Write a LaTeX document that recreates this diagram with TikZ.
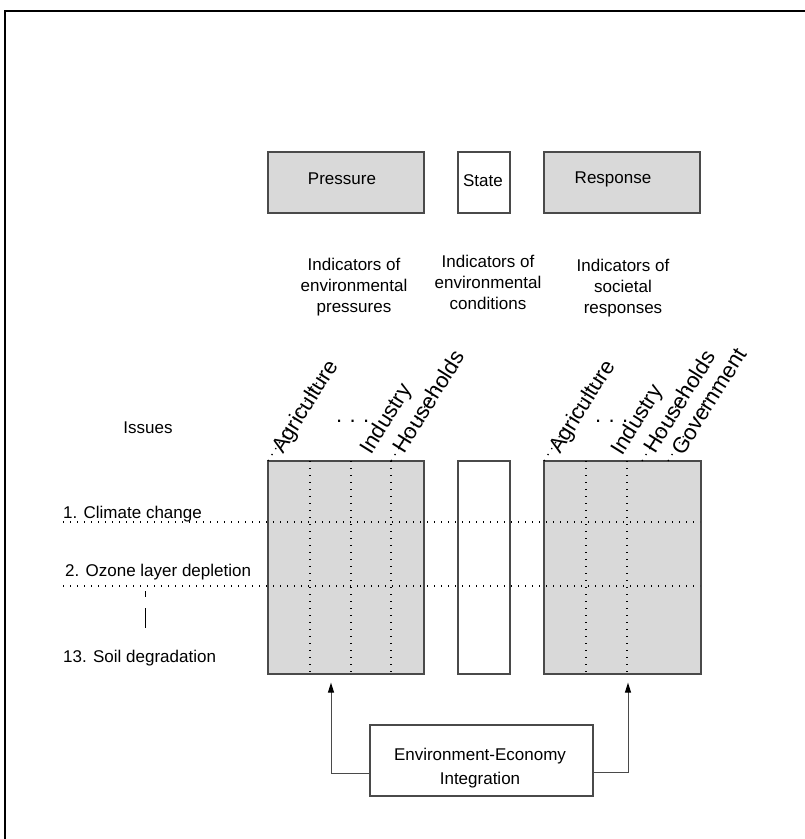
\documentclass[tikz,border=0pt]{standalone}
\usepackage{fontspec}
\setmainfont{Liberation Sans}
\usetikzlibrary{arrows.meta}
\definecolor{boxfill}{HTML}{D9D9D9}
\definecolor{boxline}{HTML}{4A4A4A}
\newcommand\fsn{\fontsize{17}{21}\selectfont}
\newcommand\fsr{\fontsize{22}{26}\selectfont}
\tikzset{
  gbox/.style={draw=boxline, fill=boxfill, line width=1.2pt, inner sep=0pt, minimum height=#1},
  wbox/.style={draw=boxline, fill=white, line width=1.2pt, inner sep=0pt, minimum height=#1},
  lbl/.style={inner sep=0pt, font=\fsn},
  rlbl/.style={inner sep=0pt, font=\fsr, rotate=58, anchor=base west},
  dotline/.style={line width=1.3pt, dash pattern=on 1.3pt off 5.7pt, black},
  arr/.style={draw=boxline, line width=1pt, -{Triangle[length=10pt,width=6pt,color=black]}, shorten >=8pt},
}
\begin{document}
\begin{tikzpicture}[x=1pt,y=-1pt]
\useasboundingbox (0,0) rectangle (805,839);
% outer frame (top and left edges)
\draw[line width=1.3pt] (805,11) -- (5,11) -- (5,839);

% top boxes
\node[gbox=61pt, minimum width=156pt] (ptop) at (346,182.5) {};
\node[wbox=61pt, minimum width=52pt] (stop) at (484,182.5) {};
\node[gbox=61pt, minimum width=156pt] (rtop) at (622,182.5) {};
\node[lbl] (ptxt) at (342,179) {Pressure};
\node[lbl] (stxt) at (483,181) {State};
\node[lbl] (rtxt) at (613,179) {Response};

% indicator texts
\node[lbl, align=center] (pind) at (354,286.6) {Indicators of\\environmental\\pressures};
\node[lbl, align=center] (sind) at (488,282.8) {Indicators of\\environmental\\conditions};
\node[lbl, align=center] (rind) at (623,288.1) {Indicators of\\societal\\responses};

% grid boxes
\node[gbox=213pt, minimum width=156pt] (pgrid) at (346,567.5) {};
\node[wbox=213pt, minimum width=52pt] (sgrid) at (484,567.5) {};
\node[gbox=213pt, minimum width=157pt] (rgrid) at (622.5,567.5) {};

% vertical dotted lines
\foreach \x in {310,351,391} \draw[dotline] (\x,461) -- (\x,674);
\foreach \x in {586,627} \draw[dotline] (\x,461) -- (\x,674);
% horizontal dotted lines
\draw[dotline] (63,522) -- (700,522);
\draw[dotline] (63,586) -- (700,586);

% slanted dotted lines
\draw[dotline] (268,461) -- ++(53,-85);
\draw[dotline] (391,461) -- ++(53,-85);
\draw[dotline] (544,461) -- ++(53,-85);
\draw[dotline] (642,461) -- ++(53,-85);
\draw[dotline] (668,461) -- ++(48,-77);

% rotated column labels
\node[rlbl] (pagr) at (283,455) {Agriculture};
\node[rlbl] (pind2) at (371,456) {Industry};
\node[rlbl] (phh) at (404,455) {Households};
\node[rlbl] (ragr) at (560,455) {Agriculture};
\node[rlbl] (rind2) at (622,457) {Industry};
\node[rlbl] (rhh) at (655,455) {Households};
\node[rlbl] (rgov) at (683,457) {Government};
\node[inner sep=0pt, font=\fsr, anchor=base west] (pdots) at (336,422) {.\,\,.\,\,.};
\node[inner sep=0pt, font=\fsr, anchor=base west] (rdots) at (595,422) {.\,\,.\,\,.};

% issues
\node[lbl, anchor=base] (issues) at (148,433) {Issues};
\node[lbl, anchor=base west] (i1) at (63,518) {1. Climate change};
\node[lbl, anchor=base west] (i2) at (65,576) {2. Ozone layer depletion};
\node[lbl, anchor=base west] (i13) at (63,662) {13. Soil degradation};
\draw[line width=1pt] (145,591) -- (145,597);
\draw[line width=1pt] (145,608) -- (145,628);

% integration box
\node[wbox=71pt, minimum width=223pt] (env) at (481.5,760.5) {};
\node[inner sep=0pt, font=\fontsize{17}{24}\selectfont, align=center] (envtxt) at (480,768) {Environment-Economy\\Integration};

% arrows
\draw[arr] ([yshift=-12.5pt]env.west) -| ([xshift=-15pt]pgrid.south);
\draw[arr] ([yshift=-11.5pt]env.east) -| ([xshift=5.5pt]rgrid.south);
\end{tikzpicture}
\end{document}
